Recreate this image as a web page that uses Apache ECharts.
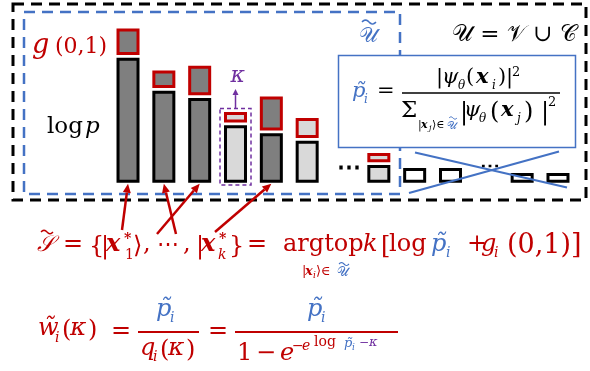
<!DOCTYPE html>
<html><head><meta charset="utf-8">
<script src="https://cdn.jsdelivr.net/npm/echarts@6/dist/echarts.min.js"></script>
<style>html,body{margin:0;padding:0;background:#fff}#c{width:590px;height:371px}</style>
</head><body><div id="c"></div>
<script>
// ---- data ----
const categories = ['x1','x2','x3','x4','x5','x6','…','x7','x8','x9','…','x10','x11'];
const logP   = [125, 92, 84.7, 57.4, 49.4, 42, null, 17.7, 14.7, 14.7, null, 9.7, 9.7];
const gumbel = [26.4, 17.4, 29.4, 10.4, 34, 20, null, 9.3, null, null, null, null, null];
const kind   = ['top','top','top','kappa','top','cand',null,'cand','out','out',null,'out','out'];
const selected = [0, 1, 2, 4];      // indices pointed to by the arrows
const kappaIndex = 3;

const R = '#c00000', B = '#4472c4', P = '#7030a0', K = '#000000';
const DARK = '#7f7f7f', LIGHT = '#d9d9d9';
const GAP = 2.8;
const BW = 3;

function fillFor(k){ return k === 'top' ? DARK : (k === 'out' ? '#ffffff' : LIGHT); }

const chart = echarts.init(document.getElementById('c'), null, {renderer:'canvas'});
chart.setOption({
  animation:false,
  grid:{left:110.1, right:14.1, top:22.7, bottom:188.3},
  xAxis:{type:'category', data:categories, show:false},
  yAxis:{type:'value', min:0, max:160, show:false},
  series:[
    {type:'bar', stack:'s', barWidth:23, z:5,
     data: logP.map((v,i)=> v==null ? null : {value:v, itemStyle:{color:fillFor(kind[i]), borderColor:K, borderWidth:BW}})},
    {type:'bar', stack:'s', barWidth:23, z:5, silent:true,
     data: gumbel.map(v=> v==null ? null : GAP), itemStyle:{color:'rgba(0,0,0,0)'}},
    {type:'bar', stack:'s', barWidth:23, z:5,
     data: gumbel.map((v,i)=> v==null ? null : {value:v, itemStyle:{color:fillFor(kind[i]), borderColor:R, borderWidth:BW}})}
  ]
});

const FONT = '"DejaVu Serif"';
function T(x, base, text, size, fill, st){
  const it = st && st.indexOf('i')>=0 ? 'italic ' : '';
  const bd = st && st.indexOf('b')>=0 ? 'bold ' : '';
  return {type:'text', x:x, y: base - 0.35*size, z:100,
    style:{text:text, font: it + bd + size + 'px ' + FONT, fill:fill, align:'left', verticalAlign:'middle'}};
}
function L(x1,y1,x2,y2,color,w,dash){
  return {type:'line', z:100, shape:{x1,y1,x2,y2}, style:{stroke:color, lineWidth:w, lineDash:dash||null}};
}
function tilde(x, y, w, color, lw){
  const pts = [];
  for (let k=0;k<=12;k++){ const t=k/12; pts.push([x + w*t, y - 2*Math.sin(2*Math.PI*t) * (w/14)]); }
  return {type:'polyline', z:101, shape:{points:pts}, style:{stroke:color, lineWidth:lw||1.4, fill:null}};
}
function arrow(x1,y1,x2,y2,color,w,hl,hw){
  const dx=x2-x1, dy=y2-y1, len=Math.hypot(dx,dy), ux=dx/len, uy=dy/len;
  const bx=x2-ux*hl, by=y2-uy*hl;
  return [L(x1,y1,bx,by,color,w),
    {type:'polygon', z:100, shape:{points:[[x2,y2],[bx-uy*hw/2,by+ux*hw/2],[bx+uy*hw/2,by-ux*hw/2]]}, style:{fill:color}}];
}
const px = (i,v)=> chart.convertToPixel({gridIndex:0},[i,v]);

const g = [];
// dashed frames
g.push({type:'rect', z:90, shape:{x:13,y:4,width:573,height:196}, style:{fill:null, stroke:K, lineWidth:3, lineDash:[11,7]}});
g.push({type:'rect', z:91, shape:{x:24,y:12,width:376,height:182}, style:{fill:null, stroke:B, lineWidth:2.5, lineDash:[11,7]}});

// dots between bars
g.push(T(px(6,0)[0]-6, 177, '⋯', 24, K, 'b'));
g.push(T(px(10,0)[0]-6, 174, '⋯', 20, K, 'b'));

// X over discarded bars
g.push(L(415,152.5,567,187.5,B,2.2));
g.push(L(409,193,559,151.5,B,2.2));

// kappa box and arrow
const kc = px(kappaIndex,0)[0];
const kTop = px(kappaIndex, logP[kappaIndex]+GAP+gumbel[kappaIndex])[1];
g.push({type:'rect', z:100, shape:{x:kc-15.5, y:kTop-3.5, width:31, height:185-(kTop-3.5)}, style:{fill:null, stroke:P, lineWidth:1.5, lineDash:[4,3]}});
g.push(...arrow(kc, kTop-3.5, kc, kTop-23, P, 1.5, 6, 6));
g.push(T(kc-5, 84, 'κ', 22, P, 'i'));

// labels
g.push(T(32, 55, 'g', 27, R, 'i'));
g.push(T(55, 55, '(0,1)', 22, R));
g.push(T(47, 135, 'log', 23, K));
g.push(T(85, 135, 'p', 23, K, 'i'));
g.push(T(359, 44, '𝒰', 21, B));
g.push(tilde(362, 22, 14, B, 1.6));
g.push(T(452, 43, '𝒰 = 𝒱 ∪ 𝒞', 23, K));

// probability formula box
g.push({type:'rect', z:99, shape:{x:338.5,y:55.5,width:237,height:92}, style:{fill:'#fff', stroke:B, lineWidth:1.5}});
g.push(T(352, 99, 'p\u0303', 21, B, 'i'));
g.push(T(364, 104, 'i', 12, B, 'i'));
g.push(T(377, 99, '=', 21, K));
g.push(L(402,93,560,93,K,1.3));
g.push(T(436, 85, '|', 21, K));
g.push(T(442, 85, 'ψ', 21, K, 'i'));
g.push(T(458, 90, 'θ', 12, K, 'i'));
g.push(T(466, 85, '(', 21, K));
g.push(T(476, 85, 'x', 21, K, 'bi'));
g.push(T(492, 90, 'i', 12, K, 'i'));
g.push(T(498, 85, ')', 21, K));
g.push(T(506, 85, '|', 21, K));
g.push(T(512, 77, '2', 13, K));
g.push(T(401, 119, 'Σ', 23, K));
g.push(T(418, 129, '|', 11, K));
g.push(T(421, 129, 'x', 11, K, 'bi'));
g.push(T(429, 131, 'j', 8, K, 'i'));
g.push(T(432, 129, '⟩∈', 11, K));
g.push(T(447, 130, '𝒰', 11, B));
g.push(tilde(449, 118, 8, B, 1));
g.push(T(460, 121, '|', 24, K));
g.push(T(464, 118, 'ψ', 21, K, 'i'));
g.push(T(479, 123, 'θ', 12, K, 'i'));
g.push(T(490, 121, '(', 24, K));
g.push(T(501, 118, 'x', 21, K, 'bi'));
g.push(T(517, 123, 'j', 12, K, 'i'));
g.push(T(524, 121, ')', 24, K));
g.push(T(541, 121, '|', 24, K));
g.push(T(548, 107, '2', 13, K));

// main selection formula
g.push(T(37, 253, '𝒮', 22, R, 'i'));
g.push(tilde(41, 232, 12, R, 1.5));
g.push(T(63, 253, '=', 24, R));
g.push(T(89, 255, '{', 24, R));
g.push(T(101, 255, '|', 24, R));
g.push(T(106, 253, 'x', 24, R, 'bi'));
g.push(T(124, 244, '*', 14, R, 'b'));
g.push(T(125, 260, '1', 14, R));
g.push(T(133, 255, '⟩', 24, R));
g.push(T(143, 253, ',', 24, R));
g.push(T(157, 253, '⋯', 22, R));
g.push(T(183, 253, ',', 24, R));
g.push(T(196, 255, '|', 24, R));
g.push(T(201, 253, 'x', 24, R, 'bi'));
g.push(T(219, 244, '*', 14, R, 'b'));
g.push(T(218, 260, 'k', 14, R, 'i'));
g.push(T(229, 255, '}', 24, R));
g.push(T(247, 253, '=', 24, R));
g.push(T(283, 253, 'argtop', 24, R));
g.push(T(363, 253, 'k', 24, R, 'i'));
g.push(T(381, 255, '[', 24, R));
g.push(T(389, 253, 'log', 24, R));
g.push(T(431, 253, 'p\u0303', 24, B, 'i'));
g.push(T(446, 258, 'i', 14, B, 'i'));
g.push(T(467, 253, '+', 24, R));
g.push(T(481, 253, 'g', 24, R, 'i'));
g.push(T(494, 258, 'i', 14, R, 'i'));
g.push(T(507, 255, '(0,1)]', 27, R));
g.push(T(302, 276, '|', 13, R));
g.push(T(305, 276, 'x', 13, R, 'bi'));
g.push(T(313, 279, 'i', 9, R, 'i'));
g.push(T(316, 276, '⟩∈', 13, R));
g.push(T(337, 277, '𝒰', 13, B));
g.push(tilde(339, 264, 10, B, 1.1));

// arrows from the formula to the selected bars
const tails = [[122,230],[176,234],[157,234],[215,232]];
selected.forEach((idx,k)=>{
  const h = px(idx,0);
  g.push(...arrow(tails[k][0], tails[k][1], h[0], h[1]+1, R, 2.5, 9, 8));
});

// weight formula
g.push(T(38, 337, 'w\u0303', 24, R, 'i'));
g.push(T(55, 343, 'i', 14, R, 'i'));
g.push(T(62, 339, '(', 24, R));
g.push(T(70, 337, 'κ', 25, R, 'i'));
g.push(T(88, 339, ')', 24, R));
g.push(T(111, 340, '=', 24, R));
g.push(L(138,332,199,332,R,2));
g.push(T(156, 318, 'p\u0303', 24, B, 'i'));
g.push(T(170, 323, 'i', 14, B, 'i'));
g.push(T(140, 357, 'q', 24, R, 'i'));
g.push(T(153, 362, 'i', 14, R, 'i'));
g.push(T(160, 359, '(', 24, R));
g.push(T(168, 357, 'κ', 25, R, 'i'));
g.push(T(186, 359, ')', 24, R));
g.push(T(208, 340, '=', 24, R));
g.push(L(235,332,398,332,R,2));
g.push(T(307, 318, 'p\u0303', 24, B, 'i'));
g.push(T(321, 323, 'i', 14, B, 'i'));
g.push(T(237, 362, '1', 24, R));
g.push(T(256, 362, '−', 24, R));
g.push(T(280, 362, 'e', 24, R, 'i'));
g.push(T(292, 351, '−', 14, R));
g.push(T(302, 351, 'e', 14, R, 'i'));
g.push(T(314, 347, 'log', 14, R));
g.push(T(344, 348, 'p\u0303', 13, B, 'i'));
g.push(T(352, 351, 'i', 9, B, 'i'));
g.push(T(359, 347, '−', 12, P));
g.push(T(369, 347, 'κ', 13, P, 'i'));

chart.setOption({graphic: g});
</script></body></html>
